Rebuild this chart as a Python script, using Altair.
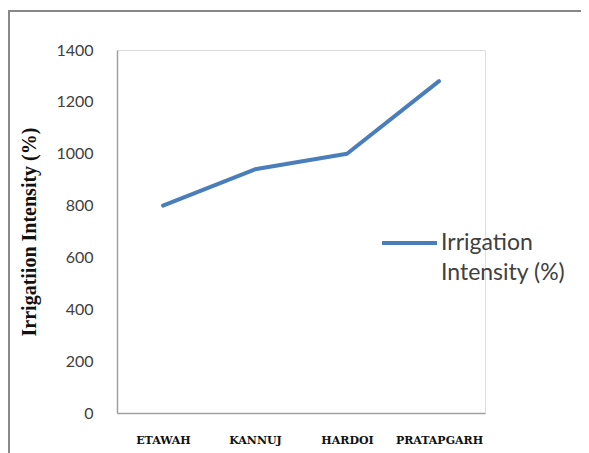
import altair as alt
import pandas as pd

districts = ["ETAWAH", "KANNUJ", "HARDOI", "PRATAPGARH"]
intensity = [800, 940, 1000, 1280]
series_name = "Irrigation Intensity (%)"
legend_label = "Irrigation\nIntensity (%)"

df = pd.DataFrame({"District": districts, "Intensity": intensity, "Series": [series_name] * len(districts)})
leg = pd.DataFrame({"Series": [series_name], "Label": [legend_label]})

W, H = 368, 363
BLUE = "#4a7ebb"

line = alt.Chart(df).mark_line(strokeWidth=4, strokeCap="round", strokeJoin="round", color=BLUE).encode(
    x=alt.X("District:N", sort=districts,
            scale=alt.Scale(paddingInner=0, paddingOuter=0.5),
            axis=alt.Axis(title=None, labelAngle=0, ticks=False, domainColor="#a0a0a0", domainWidth=1.5,
                          labelFont="DejaVu Serif", labelFontWeight="bold", labelFontSize=11,
                          labelColor="#111111", labelPadding=21)),
    y=alt.Y("Intensity:Q", scale=alt.Scale(domain=[0, 1400]),
            axis=alt.Axis(title="Irrigatiion Intensity (%)", values=list(range(0, 1401, 200)), format="d",
                          ticks=False, grid=False, domainColor="#a0a0a0", domainWidth=1.5,
                          labelFont="Lato", labelFontSize=16, labelColor="#404040", labelPadding=24,
                          titleFont="Liberation Serif", titleFontWeight="bold", titleFontSize=20,
                          titleColor="#111111", titleX=-88, titleY=H / 2, titleAngle=-90,
                          titleBaseline="middle")),
    detail="Series:N",
)

legend_line = alt.Chart(leg).mark_rule(color=BLUE, strokeWidth=4).encode(
    x=alt.value(265), x2=alt.value(320), y=alt.value(193), detail="Series:N")
legend_text = alt.Chart(leg).mark_text(lineBreak="\n", lineHeight=30, align="left", baseline="middle",
                                       font="Lato", fontSize=23, color="#404040").encode(
    x=alt.value(324), y=alt.value(193), text="Label:N")

frame_top = alt.Chart(df).mark_rule(color="#888888", strokeWidth=2).encode(
    x=alt.value(-109), x2=alt.value(500), y=alt.value(-39))
frame_left = alt.Chart(df).mark_rule(color="#888888", strokeWidth=2).encode(
    x=alt.value(-108), y=alt.value(-39), y2=alt.value(H + 60))

chart = alt.layer(line, legend_line, legend_text, frame_top, frame_left).properties(
    width=W, height=H,
    autosize=alt.AutoSizeParams(type="none"),
    padding={"left": 109, "top": 42, "right": 96, "bottom": 40},
).configure_view(stroke=None).configure(background="white")

chart.save("out.html", embed_options={"renderer": "svg", "actions": False})
